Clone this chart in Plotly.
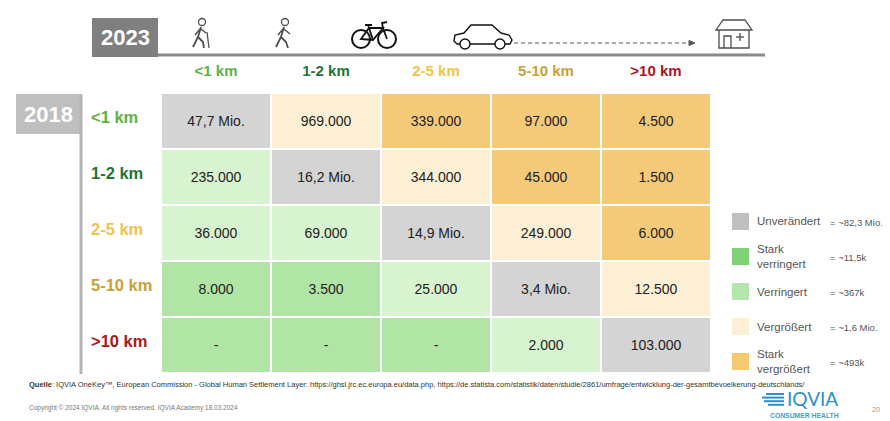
import plotly.graph_objects as go

# distance bands, 2018 (rows) vs 2023 (columns)
bands = ["<1 km", "1-2 km", "2-5 km", "5-10 km", ">10 km"]
band_colors = ["#5fb045", "#1f7436", "#f2c24e", "#c9a136", "#a8181c"]

cell_text = [
    ["47,7 Mio.", "969.000", "339.000", "97.000", "4.500"],
    ["235.000", "16,2 Mio.", "344.000", "45.000", "1.500"],
    ["36.000", "69.000", "14,9 Mio.", "249.000", "6.000"],
    ["8.000", "3.500", "25.000", "3,4 Mio.", "12.500"],
    ["-", "-", "-", "2.000", "103.000"],
]
# 0 unveraendert, 1 stark verringert, 2 verringert, 3 vergroessert, 4 stark vergroessert
cell_class = [
    [0, 3, 4, 4, 4],
    [2, 0, 3, 4, 4],
    [2, 2, 0, 3, 4],
    [1, 1, 2, 0, 3],
    [1, 1, 1, 2, 0],
]
class_colors = ["#d4d4d4", "#b1e5a6", "#d7f3cf", "#fcefd4", "#f4c978"]

legend_labels = ["Unverändert", "Stark<br>verringert", "Verringert",
                 "Vergrößert", "Stark<br>vergrößert"]
legend_values = ["= ~82,3 Mio.", "= ~11,5k", "= ~367k", "= ~1,6 Mio.", "= ~493k"]
legend_colors = ["#bfbfbf", "#7fd277", "#b4e6ad", "#fcefd6", "#f5c872"]

# the page body has an 8px margin, so the figure is drawn 8px in from the corner
OFF = 8
W, H = 890 - OFF, 421 - OFF
FONT = "Liberation Sans, Arial, sans-serif"


def px(x):
    return (x - OFF) / W


def py(y):
    return 1 - (y - OFF) / H


def path(points, close=False):
    s = "M " + " L ".join("%.5f,%.5f" % (px(x), py(y)) for x, y in points)
    return s + (" Z" if close else "")


def line_shape(points, color="#555", width=1.5, dash="solid", close=False, fill=None):
    d = dict(type="path", xref="paper", yref="paper", path=path(points, close),
             line=dict(color=color, width=width, dash=dash))
    if fill:
        d["fillcolor"] = fill
    return d


def circle(cx, cy, r, color="#555", width=1.5, fill="white"):
    return dict(type="circle", xref="paper", yref="paper",
                x0=px(cx - r), x1=px(cx + r), y0=py(cy + r), y1=py(cy - r),
                line=dict(color=color, width=width), fillcolor=fill)


def rect(x0, y0, x1, y1, fill, color=None, width=0):
    return dict(type="rect", xref="paper", yref="paper",
                x0=px(x0), x1=px(x1), y0=py(y1), y1=py(y0),
                fillcolor=fill, line=dict(color=color or fill, width=width))


def label(x, y, text, size, color, xanchor="left", family=FONT, align="left"):
    return dict(x=px(x), y=py(y), xref="paper", yref="paper", xanchor=xanchor,
                yanchor="middle", text=text, showarrow=False, align=align,
                font=dict(size=size, color=color, family=family))


n = len(class_colors) - 1
colorscale = [[i / n, c] for i, c in enumerate(class_colors)]

fig = go.Figure(go.Heatmap(
    x=bands, y=bands, z=cell_class, text=cell_text,
    texttemplate="%{text}", textfont=dict(size=14, color="#222", family=FONT),
    colorscale=colorscale, zmin=0, zmax=n, showscale=False,
    xgap=2, ygap=2, hoverinfo="skip",
))

shapes = []
annotations = []

# header: 2023 box and baseline
shapes.append(rect(92, 18, 158, 57, "#7f7f7f"))
shapes.append(line_shape([(158, 55), (765, 55)], color="#8a8a8a", width=3))
annotations.append(label(125, 38, "<b>2023</b>", 22, "white", xanchor="center"))

# left: 2018 box and vertical rule
shapes.append(rect(16, 94, 81, 134, "#bfbfbf"))
shapes.append(line_shape([(81, 94), (81, 374)], color="#b5b5b5", width=3))
annotations.append(label(48, 114, "<b>2018</b>", 22, "white", xanchor="center"))

# icons
icon = "#4d4d4d"
# walker with cane
shapes.append(circle(202, 22, 3.5, icon, 1.3))
shapes.append(line_shape([(201, 27), (198, 37), (193, 47)], icon, 1.8))
shapes.append(line_shape([(198, 37), (203, 42), (204, 48)], icon, 1.8))
shapes.append(line_shape([(200, 29), (195, 35)], icon, 1.5))
shapes.append(line_shape([(201, 29), (206, 33)], icon, 1.5))
shapes.append(line_shape([(207, 32), (209, 48)], icon, 1.3))
# walker
shapes.append(circle(285, 22, 3.5, icon, 1.3))
shapes.append(line_shape([(284, 27), (281, 37), (276, 47)], icon, 1.8))
shapes.append(line_shape([(281, 37), (286, 42), (288, 48)], icon, 1.8))
shapes.append(line_shape([(283, 29), (278, 35)], icon, 1.5))
shapes.append(line_shape([(284, 29), (290, 34)], icon, 1.5))
# bicycle
shapes.append(circle(361, 39, 9, "#111", 2, "rgba(0,0,0,0)"))
shapes.append(circle(387, 39, 9, "#111", 2, "rgba(0,0,0,0)"))
shapes.append(line_shape([(361, 39), (373, 40), (383, 28), (369, 28)], "#111", 1.8, close=True))
shapes.append(line_shape([(369, 28), (373, 40)], "#111", 1.8))
shapes.append(line_shape([(383, 28), (387, 39)], "#111", 1.8))
shapes.append(line_shape([(383, 28), (382, 23), (387, 22)], "#111", 1.8))
shapes.append(line_shape([(365, 25), (372, 25)], "#111", 2))
shapes.append(line_shape([(368, 25), (369, 28)], "#111", 1.5))
# car
shapes.append(line_shape([(457, 44), (454, 41), (455, 35), (464, 33), (471, 25), (492, 25),
                          (501, 33), (509, 35), (512, 40), (510, 44)], "#111", 1.4,
                         close=True, fill="white"))
shapes.append(circle(465, 44, 5, "#111", 1.4))
shapes.append(circle(500, 44, 5, "#111", 1.4))
# dashed arrow
shapes.append(line_shape([(514, 43), (690, 43)], "#555", 1.2, dash="4px,3px"))
shapes.append(line_shape([(689, 40.5), (695, 43), (689, 45.5)], "#555", 1, close=True, fill="#555"))
# pharmacy house
shapes.append(line_shape([(716, 30), (723, 20), (745, 20), (752, 30)], icon, 1.3, close=True))
shapes.append(line_shape([(719, 30), (719, 48), (749, 48), (749, 30)], icon, 1.3))
shapes.append(line_shape([(724, 48), (724, 36), (731, 36), (731, 48)], icon, 1.3))
shapes.append(line_shape([(736, 37), (744, 37)], icon, 1.3))
shapes.append(line_shape([(740, 33), (740, 41)], icon, 1.3))

# row labels (2018), left aligned
for band, col in zip(bands, band_colors):
    annotations.append(dict(x=px(89), y=band, xref="paper", yref="y", xanchor="left",
                            yanchor="middle", yshift=4, text="<b>%s</b>" % band,
                            showarrow=False, font=dict(size=16.5, color=col, family=FONT)))

# legend
for i, (lab, val, col) in enumerate(zip(legend_labels, legend_values, legend_colors)):
    cy = 221.5 + i * 35
    shapes.append(rect(732, cy - 8.5, 749, cy + 8.5, col))
    annotations.append(label(755, cy, lab, 11.5, "#555"))
    annotations.append(label(828, cy + 1, val, 9.5, "#555"))

# footer
source = ("<b>Quelle</b>: IQVIA OneKey™, European Commission - Global Human Settlement Layer: "
          "https://ghsl.jrc.ec.europa.eu/data.php, "
          "https://de.statista.com/statistik/daten/studie/2861/umfrage/"
          "entwicklung-der-gesamtbevoelkerung-deutschlands/")
annotations.append(label(27, 384, source, 7.5, "#333"))
annotations.append(label(27, 408, "Copyright © 2024 IQVIA. All rights reserved. IQVIA Academy 18.03.2024",
                         6.5, "#777"))
annotations.append(label(870, 409, "20", 7, "#999"))

# IQVIA logo
logo = "#2f8fc6"
for k, (x0, x1) in enumerate([(766, 784), (762, 784), (764, 784), (768, 784)]):
    yy = 394 + k * 3.6
    shapes.append(line_shape([(x0, yy), (x1, yy)], logo, 2))
annotations.append(label(785, 398.5, "IQVIA", 19, logo, family="Lato, " + FONT))
annotations.append(label(804, 415.5, "<b>CONSUMER HEALTH</b>", 6.8, "#3aa3bd", xanchor="center"))

tick_text = ["<span style='color:%s'><b>%s</b></span>" % (c, b) for b, c in zip(bands, band_colors)]

fig.update_layout(
    width=W, height=H, margin=dict(l=0, r=0, t=0, b=0),
    paper_bgcolor="white", plot_bgcolor="white",
    shapes=shapes, annotations=annotations,
    xaxis=dict(domain=[px(161), px(711)], side="top", type="category",
               tickvals=bands, ticktext=tick_text, ticks="", ticklabelstandoff=13,
               tickfont=dict(size=15, family=FONT), showgrid=False, zeroline=False,
               showline=False, fixedrange=True),
    yaxis=dict(domain=[py(373), py(93)], type="category", autorange="reversed",
               showticklabels=False, ticks="", showgrid=False, zeroline=False,
               showline=False, fixedrange=True),
    font=dict(family=FONT),
)

fig.write_html("out.html")
